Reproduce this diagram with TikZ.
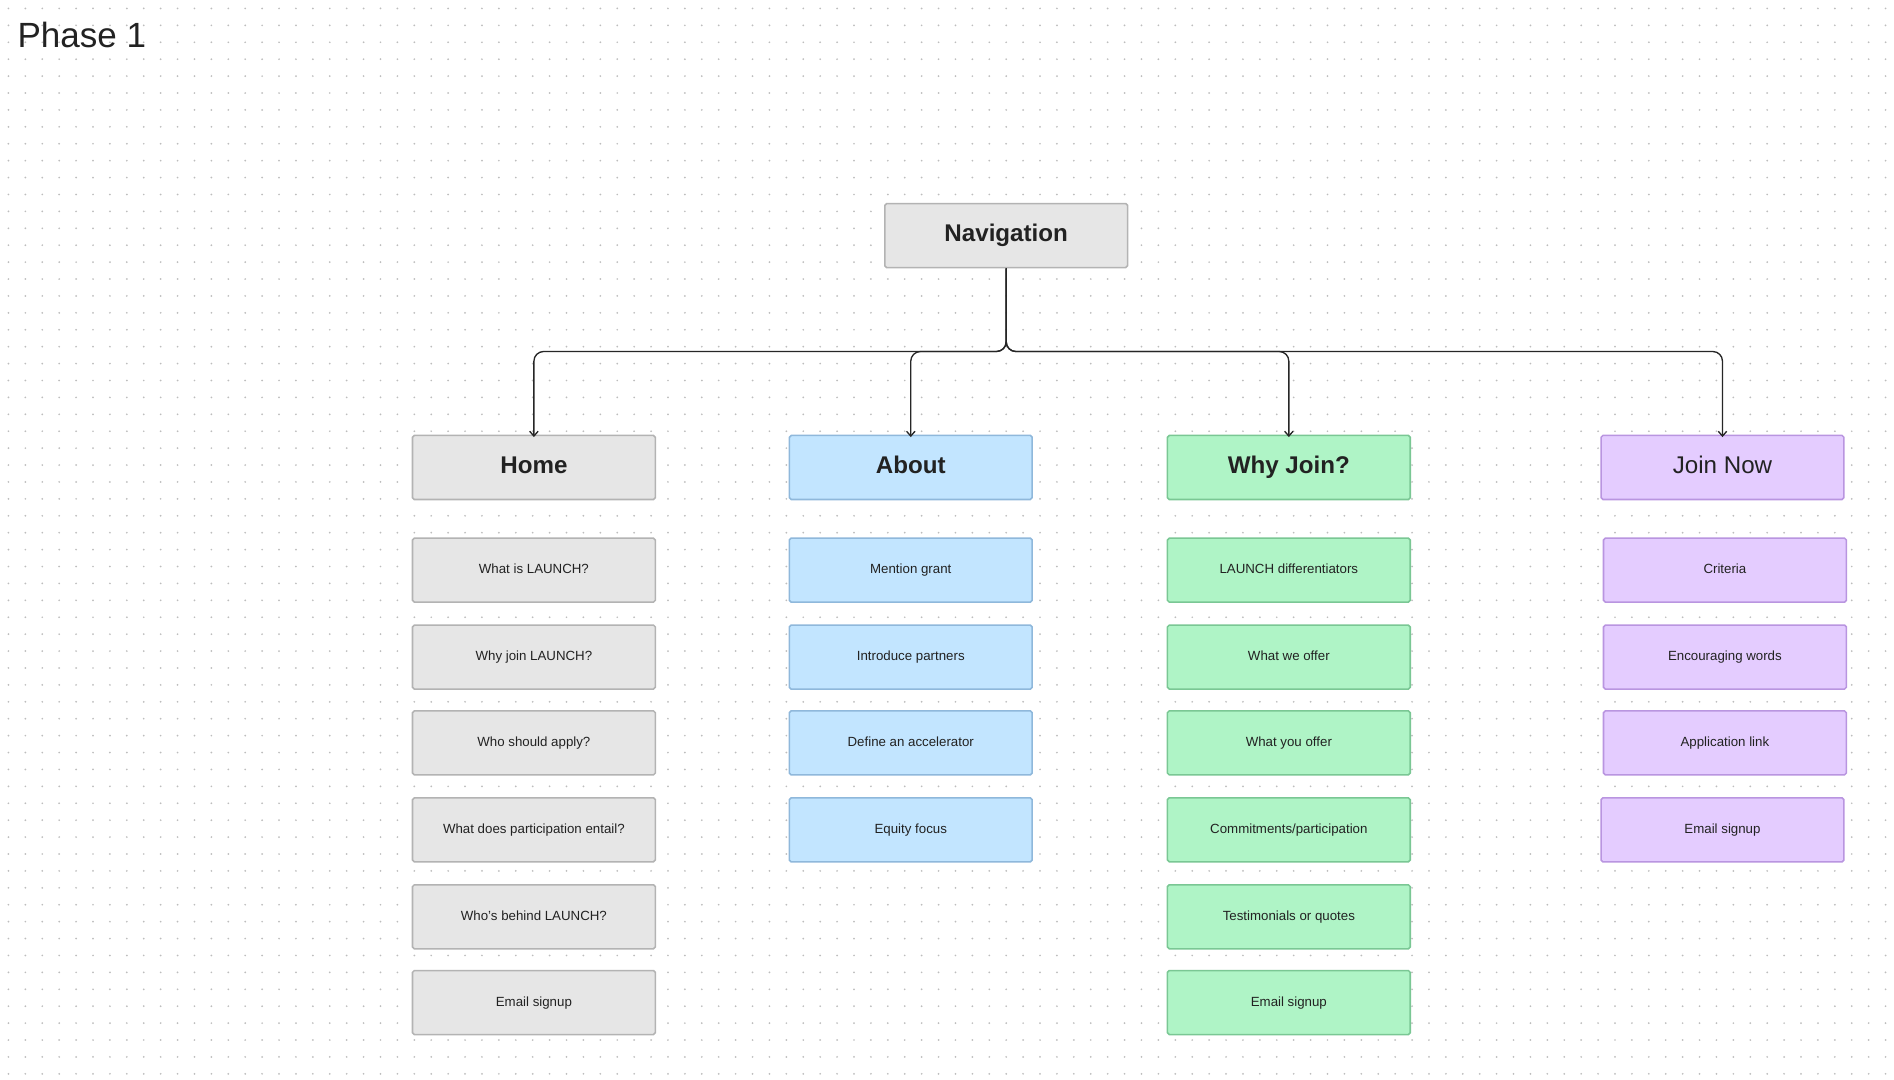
\documentclass[tikz,border=0pt]{standalone}
\usepackage{fontspec}
\setmainfont{Liberation Sans}
\usetikzlibrary{arrows.meta}
\definecolor{gfill}{HTML}{E6E6E6}\definecolor{gline}{HTML}{B3B3B3}
\definecolor{bfill}{HTML}{C2E5FF}\definecolor{bline}{HTML}{8FB8DB}
\definecolor{nfill}{HTML}{AFF4C6}\definecolor{nline}{HTML}{7AC794}
\definecolor{pfill}{HTML}{E4CCFF}\definecolor{pline}{HTML}{B995E0}
\definecolor{dotc}{HTML}{BDBDBD}
\definecolor{txt}{HTML}{222222}
\begin{document}
\begin{tikzpicture}[x=1pt,y=-1pt,
 box/.style={draw,line width=1.3pt,rounded corners=1.5pt,minimum width=201pt,minimum height=53pt,inner sep=0pt,text=txt,text height=8pt,text depth=2pt,font=\fontsize{11}{13}\selectfont},
 head/.style={box,text height=14pt,text depth=4pt,font=\fontsize{20}{23}\selectfont\bfseries},
 gb/.style={fill=gfill,draw=gline},bb/.style={fill=bfill,draw=bline},
 nb/.style={fill=nfill,draw=nline},pb/.style={fill=pfill,draw=pline},
 conn/.style={draw=black!85,line width=1.1pt,rounded corners=8pt,-{Straight Barb[length=4pt,width=7pt]}}]
\useasboundingbox[fill=white] (0,0) rectangle (1568,894);
\foreach \i in {0,...,111}{\foreach \j in {0,...,63}{\fill[dotc] (7+14*\i,7+14*\j) circle (0.8pt);}}
\node[anchor=west,text=txt,font=\fontsize{29}{32}\selectfont] (title) at (11,29) {Phase 1};
\node[head,gb] (nav) at (833,195) {Navigation};
\node[head,gb] (home) at (442,387) {Home};
\node[head,bb] (about) at (754,387) {About};
\node[head,nb] (why) at (1067,387) {Why Join?};
\node[head,pb,font=\fontsize{20}{23}\selectfont] (join) at (1426,387) {Join Now};
\coordinate (j) at (833,291);
\foreach \t in {home,about,why,join}{\draw[conn] (nav.south) -- (j) -| ([yshift=-2pt]\t.north);}
\foreach \t/\y [count=\k] in {What is LAUNCH?/472,Why join LAUNCH?/544,Who should apply?/615,What does participation entail?/687,Who’s behind LAUNCH?/759,Email signup/830}{\node[box,gb] (h\k) at (442,\y) {\t};}
\foreach \t/\y [count=\k] in {Mention grant/472,Introduce partners/544,Define an accelerator/615,Equity focus/687}{\node[box,bb] (a\k) at (754,\y) {\t};}
\foreach \t/\y [count=\k] in {LAUNCH differentiators/472,What we offer/544,What you offer/615,{Commitments/participation}/687,Testimonials or quotes/759,Email signup/830}{\node[box,nb] (w\k) at (1067,\y) {\t};}
\foreach \t/\y [count=\k] in {Criteria/472,Encouraging words/544,Application link/615}{\node[box,pb] (p\k) at (1428,\y) {\t};}
\node[box,pb] (p4) at (1426,687) {Email signup};
\end{tikzpicture}
\end{document}
